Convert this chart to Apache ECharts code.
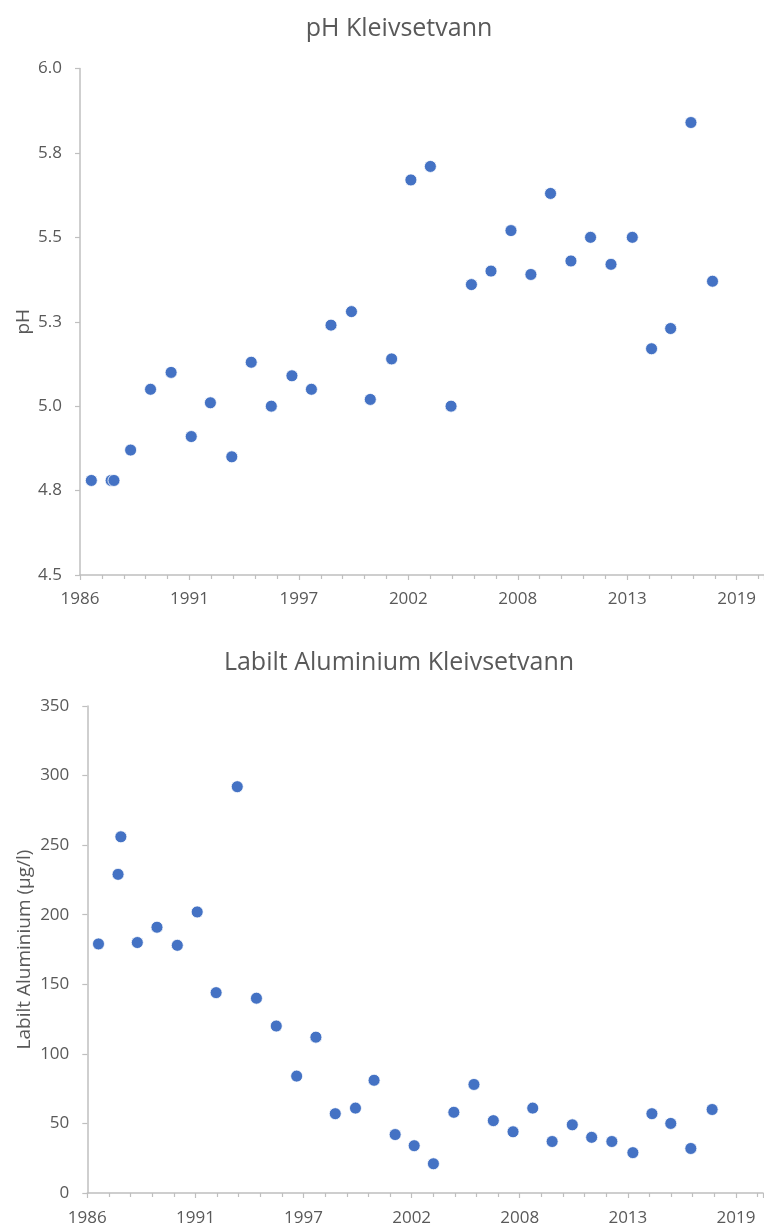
<!DOCTYPE html>
<html>
<head>
<meta charset="utf-8">
<script src="https://cdn.jsdelivr.net/npm/echarts@6/dist/echarts.min.js"></script>
<style>
html,body{margin:0;padding:0;background:#fff;}
#chart{width:764px;height:1227px;}
</style>
</head>
<body>
<div id="chart"></div>
<script>
// Sample dates (shared by both series)
var sampleDates = [
  "1986-10-22","1987-10-19","1987-12-10","1988-10-09","1989-10-08","1990-10-19",
  "1991-10-22","1992-10-06","1993-11-01","1994-10-22","1995-10-24","1996-11-04",
  "1997-10-26","1998-10-19","1999-10-28","2000-10-06","2001-10-31","2002-10-18",
  "2003-10-09","2004-10-21","2005-10-28","2006-10-21","2007-10-21","2008-10-19",
  "2009-10-13","2010-10-21","2011-10-14","2012-10-22","2013-11-15","2014-11-02",
  "2015-10-17","2016-10-22","2017-11-20"
];
// pH values
var phValues = [
  4.78,4.78,4.78,4.87,5.05,5.10,
  4.91,5.01,4.85,5.13,5.00,5.09,
  5.05,5.24,5.28,5.02,5.14,5.67,
  5.71,5.00,5.36,5.40,5.52,5.39,
  5.63,5.43,5.50,5.42,5.50,5.17,
  5.23,5.84,5.37
];
// Labilt aluminium (µg/l)
var alValues = [
  179,229,256,180,191,178,
  202,144,292,140,120,84,
  112,57,61,81,42,34,
  21,58,78,52,44,61,
  37,49,40,37,29,57,
  50,32,60
];
var titles = ["pH Kleivsetvann", "Labilt Aluminium Kleivsetvann"];
var yNames = ["pH", "Labilt Aluminium (µg/l)"];

// x axis in spreadsheet date serial numbers (days since 1899-12-30)
function toSerial(s){ return Date.parse(s + "T00:00:00Z")/86400000 + 25569; }
function serialYear(v){ return new Date((v - 25569)*86400000).getUTCFullYear(); }

var phData = sampleDates.map(function(d,i){ return [toSerial(d), phValues[i]]; });
var alData = sampleDates.map(function(d,i){ return [toSerial(d), alValues[i]]; });

var grey = '#595959';
var axisGrey = '#bfbfbf';
var font = '"Open Sans", "Noto Sans", sans-serif';

function xAxis(gridIndex, margin){
  return {
    type:'value', gridIndex:gridIndex, min:31500, max:44000, interval:2000,
    axisLine:{show:true, lineStyle:{color:axisGrey, width:1.5}},
    axisTick:{show:true, length:5, lineStyle:{color:axisGrey, width:1.2}},
    minorTick:{show:true, splitNumber:5, length:4, lineStyle:{color:axisGrey, width:1.2}},
    splitLine:{show:false},
    axisLabel:{color:grey, fontSize:17, fontFamily:font, margin:margin,
      showMaxLabel:false,
      formatter:function(v){ return String(serialYear(v)); }}
  };
}

var chart = echarts.init(document.getElementById('chart'), null, {renderer:'canvas'});
chart.setOption({
  backgroundColor:'#ffffff',
  animation:false,
  title:[
    {text:titles[0], left:394, textAlign:'center', top:11, textStyle:{color:grey, fontSize:25, fontWeight:'normal', fontFamily:font}},
    {text:titles[1], left:394, textAlign:'center', top:645, textStyle:{color:grey, fontSize:25, fontWeight:'normal', fontFamily:font}}
  ],
  grid:[
    {left:80, top:68.5, right:-1, height:506.5},
    {left:87.3, top:706, right:1, height:487.7}
  ],
  xAxis:[xAxis(0, 16), xAxis(1, 17)],
  yAxis:[
    {type:'value', gridIndex:0, min:4.5, max:6.0, interval:0.25,
      name:yNames[0], nameLocation:'middle', nameGap:47, nameRotate:90, nameMoveOverlap:false,
      nameTextStyle:{color:grey, fontSize:19, fontFamily:font},
      axisLine:{show:true, lineStyle:{color:axisGrey, width:1.5}},
      axisTick:{show:true, length:5, lineStyle:{color:axisGrey, width:1.2}},
      splitLine:{show:false},
      axisLabel:{color:grey, fontSize:17, fontFamily:font, margin:18,
        formatter:function(v){ return v.toFixed(1); }}},
    {type:'value', gridIndex:1, min:0, max:350, interval:50,
      name:yNames[1], nameLocation:'middle', nameGap:53, nameRotate:90, nameMoveOverlap:false,
      nameTextStyle:{color:grey, fontSize:19, fontFamily:font},
      axisLine:{show:true, lineStyle:{color:axisGrey, width:1.5}},
      axisTick:{show:true, length:5, lineStyle:{color:axisGrey, width:1.2}},
      splitLine:{show:false},
      axisLabel:{color:grey, fontSize:17, fontFamily:font, margin:18}}
  ],
  series:[
    {type:'scatter', xAxisIndex:0, yAxisIndex:0, data:phData, symbol:'circle', symbolSize:12,
      itemStyle:{color:'#4472c4', borderColor:'#ffffff', borderWidth:0.8, opacity:1}},
    {type:'scatter', xAxisIndex:1, yAxisIndex:1, data:alData, symbol:'circle', symbolSize:12,
      itemStyle:{color:'#4472c4', borderColor:'#ffffff', borderWidth:0.8, opacity:1}}
  ]
});
</script>
</body>
</html>
